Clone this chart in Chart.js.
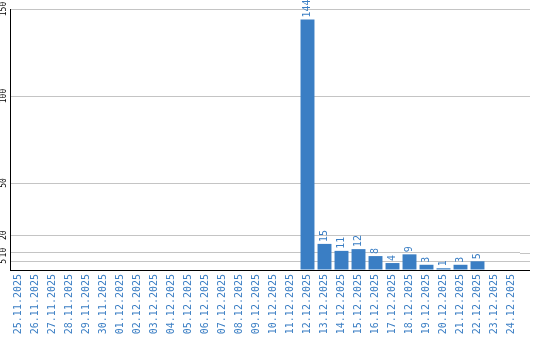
<!DOCTYPE html>
<html>
<head>
<meta charset="utf-8">
<script src="https://cdn.jsdelivr.net/npm/chart.js@4"></script>
<style>
  body { margin: 0; background: #fff; }
  canvas { display: block; }
</style>
</head>
<body>
<canvas id="barChart" width="540" height="340"></canvas>
<script>
const dates = ['25.11.2025', '26.11.2025', '27.11.2025', '28.11.2025', '29.11.2025', '30.11.2025',
  '01.12.2025', '02.12.2025', '03.12.2025', '04.12.2025', '05.12.2025', '06.12.2025', '07.12.2025',
  '08.12.2025', '09.12.2025', '10.12.2025', '11.12.2025', '12.12.2025', '13.12.2025', '14.12.2025',
  '15.12.2025', '16.12.2025', '17.12.2025', '18.12.2025', '19.12.2025', '20.12.2025', '21.12.2025',
  '22.12.2025', '23.12.2025', '24.12.2025']
const counts = [0, 0, 0, 0, 0, 0, 0, 0, 0, 0, 0, 0, 0, 0, 0, 0, 0,
  144, 15, 11, 12, 8, 4, 9, 3, 1, 3, 5, 0, 0]
const yTicks = [5, 10, 20, 50, 100, 150]

const blue = '#3a7ec4'
const mono = 'DejaVu Sans Mono'

//    ------- labels, value texts, grid tail ----------
const extras = {
  id: 'extras',
  afterDraw(chart) {
    const c = chart.ctx
    const y = chart.scales.y
    const area = chart.chartArea

    // gridlines run a bit past the last category
    c.save()
    c.strokeStyle = '#c4c4c4'
    c.lineWidth = 1
    yTicks.forEach(v => {
      const py = Math.round(y.getPixelForValue(v)) + 0.5
      c.beginPath()
      c.moveTo(area.right, py)
      c.lineTo(area.right + 10, py)
      c.stroke()
    })
    c.strokeStyle = '#000'
    c.beginPath()
    c.moveTo(area.right, Math.round(area.bottom) + 0.5)
    c.lineTo(area.right + 10, Math.round(area.bottom) + 0.5)
    c.stroke()
    c.restore()

    // y tick labels, rotated
    c.save()
    c.fillStyle = '#000'
    c.font = '8px "' + mono + '"'
    c.textAlign = 'center'
    c.textBaseline = 'middle'
    yTicks.forEach(v => {
      const py = y.getPixelForValue(v)
      c.save()
      c.translate(4, py)
      c.rotate(-Math.PI / 2)
      c.fillText(String(v), 0, 0)
      c.restore()
    })
    c.restore()

    // value labels above bars
    const meta = chart.getDatasetMeta(0)
    c.save()
    c.fillStyle = blue
    c.font = '10px "' + mono + '"'
    c.textAlign = 'left'
    c.textBaseline = 'middle'
    meta.data.forEach((bar, i) => {
      if (!counts[i]) return
      c.save()
      c.translate(bar.x, bar.y - 2)
      c.rotate(-Math.PI / 2)
      c.fillText(String(counts[i]), 0, 0)
      c.restore()
    })
    c.restore()
  }
}

const chart = new Chart(document.getElementById('barChart'), {
  type: 'bar',
  data: {
    labels: dates,
    datasets: [{
      data: counts,
      backgroundColor: blue,
      borderWidth: 0,
      barPercentage: 0.82,
      categoryPercentage: 1
    }]
  },
  options: {
    responsive: false,
    animation: false,
    layout: { padding: { top: 9, right: 20, left: 0, bottom: 0 } },
    plugins: {
      legend: { display: false },
      tooltip: { enabled: false }
    },
    scales: {
      x: {
        grid: { display: false, drawTicks: false },
        border: { color: '#000', width: 1 },
        ticks: {
          autoSkip: false,
          minRotation: 90,
          maxRotation: 90,
          padding: 4,
          color: blue,
          font: { family: mono, size: 10 }
        },
        afterFit: s => {
          s.height = 70
          s.paddingLeft = 0
          s.paddingRight = 0
        }
      },
      y: {
        min: 0,
        max: 150,
        afterBuildTicks: s => { s.ticks = [0].concat(yTicks).map(v => ({ value: v })) },
        grid: { color: '#c4c4c4', drawTicks: false },
        border: { color: '#000', width: 1 },
        ticks: { display: false },
        afterFit: s => { s.width = 10 }
      }
    }
  },
  plugins: [extras]
})
</script>
</body>
</html>
